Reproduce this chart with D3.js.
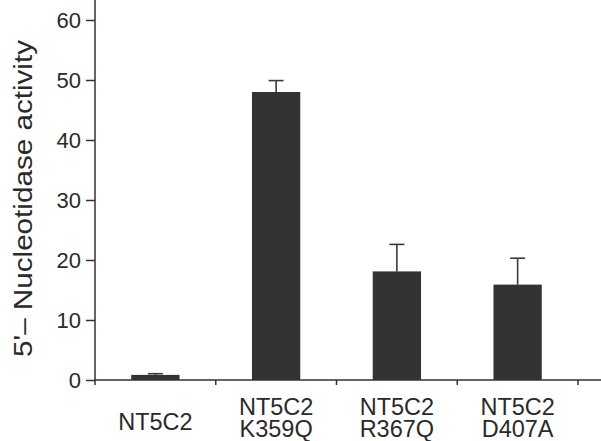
<!DOCTYPE html>
<html>
<head>
<meta charset="utf-8">
<script src="https://cdn.jsdelivr.net/npm/d3@7"></script>
<style>
  html, body { margin: 0; padding: 0; background: #fff; }
  text { font-family: "Liberation Sans", Arial, Helvetica, sans-serif; fill: #2a2a2a; }
</style>
</head>
<body>
<svg id="chart" width="601" height="441"></svg>
<script>
const categories = ["NT5C2", "NT5C2\nK359Q", "NT5C2\nR367Q", "NT5C2\nD407A"];
const values = [0.85, 48.0, 18.1, 15.9];
const errors = [0.2, 1.9, 4.5, 4.4];
const yTicks = [0, 10, 20, 30, 40, 50, 60];
const yTitle = "5'\u2013 Nucleotidase activity";

const svg = d3.select("#chart");
const mLeft = 95, mRight = 578, mBottom = 380, mTop = 20;
const axisColor = "#333";

const x = d3.scaleBand().domain(categories).range([mLeft, mRight]).paddingInner(0).paddingOuter(0);
const y = d3.scaleLinear().domain([0, 60]).range([mBottom, mTop]);
const barW = x.bandwidth() * 0.4;

// bars
svg.selectAll("rect.bar").data(values).enter().append("rect")
  .attr("class", "bar")
  .attr("x", (d, i) => x(categories[i]) + x.bandwidth() / 2 - barW / 2)
  .attr("y", d => y(d))
  .attr("width", barW)
  .attr("height", d => mBottom - y(d))
  .attr("fill", "#333333");

// error bars (upper only)
const eg = svg.append("g").attr("stroke", "#3a3a3a").attr("stroke-width", 1.6);
values.forEach((v, i) => {
  const cx = x(categories[i]) + x.bandwidth() / 2;
  eg.append("line").attr("x1", cx).attr("x2", cx).attr("y1", y(v)).attr("y2", y(v + errors[i]));
  eg.append("line").attr("x1", cx - 7.5).attr("x2", cx + 7.5).attr("y1", y(v + errors[i])).attr("y2", y(v + errors[i]));
});

// y axis
const yAxis = d3.axisLeft(y).tickValues(yTicks).tickSize(9).tickPadding(5).tickSizeOuter(0);
const gy = svg.append("g").attr("transform", `translate(${mLeft},0)`).call(yAxis);
gy.select(".domain").remove();
gy.selectAll(".tick line").attr("stroke", axisColor).attr("stroke-width", 1.5);
gy.selectAll(".tick text").attr("font-size", 22).attr("fill", "#2a2a2a")
  .style("font-family", '"Liberation Sans", Arial, sans-serif').attr("dy", "0.36em");
svg.append("line").attr("x1", mLeft).attr("x2", mLeft).attr("y1", 0).attr("y2", mBottom + 5)
  .attr("stroke", axisColor).attr("stroke-width", 1.5);

// x axis line
svg.append("line").attr("x1", mLeft).attr("x2", 601).attr("y1", mBottom).attr("y2", mBottom)
  .attr("stroke", axisColor).attr("stroke-width", 1.5);
// x ticks at category boundaries
const bounds = categories.map(c => x(c) + x.bandwidth());
svg.selectAll("line.xt").data(bounds).enter().append("line")
  .attr("class", "xt")
  .attr("x1", d => d).attr("x2", d => d).attr("y1", mBottom).attr("y2", mBottom + 5)
  .attr("stroke", axisColor).attr("stroke-width", 1.5);

// x labels
categories.forEach(c => {
  const lines = c.split("\n");
  const cx = x(c) + x.bandwidth() / 2;
  const t = svg.append("text").attr("text-anchor", "middle").attr("font-size", 23.5);
  if (lines.length === 1) {
    t.append("tspan").attr("x", cx).attr("y", 430).text(lines[0]);
  } else {
    lines.forEach((l, k) => t.append("tspan").attr("x", cx).attr("y", 414.5 + k * 22.5).text(l));
  }
});

// y title
svg.append("text")
  .attr("transform", "translate(32,198.5) rotate(-90)")
  .attr("text-anchor", "middle")
  .attr("font-size", 26)
  .attr("textLength", 317)
  .attr("lengthAdjust", "spacingAndGlyphs")
  .text(yTitle);
</script>
</body>
</html>
